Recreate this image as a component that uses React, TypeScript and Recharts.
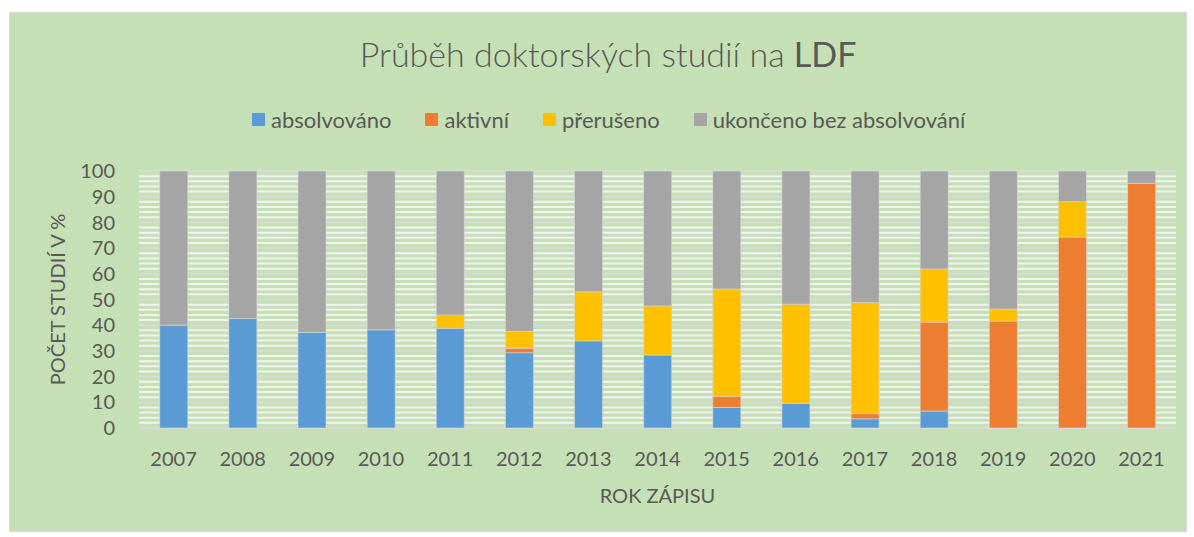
import { BarChart, Bar, XAxis, YAxis, CartesianGrid, Label } from "recharts";

const YEARS = [
  "2007", "2008", "2009", "2010", "2011", "2012", "2013", "2014",
  "2015", "2016", "2017", "2018", "2019", "2020", "2021",
];
// podíly v %
const ABSOLVOVANO = [40.0, 42.6, 37.2, 38.2, 38.8, 29.3, 33.9, 28.4, 8.0, 9.6, 3.6, 6.6, 0, 0, 0];
const AKTIVNI = [0, 0, 0, 0, 0, 1.7, 0, 0, 4.3, 0, 2.0, 34.6, 41.6, 74.3, 95.2];
const PRERUSENO = [0, 0, 0, 0, 5.2, 6.6, 19.1, 19.1, 41.8, 38.6, 43.2, 20.7, 4.7, 13.8, 0];
const UKONCENO = [60.0, 57.4, 62.8, 61.8, 56.0, 62.4, 47.0, 52.5, 45.9, 51.8, 51.2, 38.1, 53.7, 11.9, 4.8];

const Y_TICKS = [0, 10, 20, 30, 40, 50, 60, 70, 80, 90, 100];
const GRID_MINOR = [
  2, 4, 6, 8, 12, 14, 16, 18, 22, 24, 26, 28, 32, 34, 36, 38, 42, 44, 46, 48,
  52, 54, 56, 58, 62, 64, 66, 68, 72, 74, 76, 78, 82, 84, 86, 88, 92, 94, 96, 98,
];

const SERIES = [
  { key: "absolvovano", name: "absolvováno", color: "#5B9BD5" },
  { key: "aktivni", name: "aktivní", color: "#ED7D31" },
  { key: "preruseno", name: "přerušeno", color: "#FFC000" },
  { key: "ukonceno", name: "ukončeno bez absolvování", color: "#A5A5A5" },
];

const FONT = "Lato, 'Open Sans', sans-serif";
const TEXT = "#595959";

const data = YEARS.map((year, i) => ({
  year,
  absolvovano: ABSOLVOVANO[i],
  aktivni: AKTIVNI[i],
  preruseno: PRERUSENO[i],
  ukonceno: UKONCENO[i],
}));

const minorLines = ({ yAxis, offset }: any) => {
  const scale = yAxis?.scale;
  return GRID_MINOR.map((v) => {
    if (typeof scale === "function") return scale(v);
    if (scale && typeof scale.map === "function") return scale.map(v);
    return offset.top + offset.height * (1 - v / 100);
  });
};

function ChartLegend() {
  return (
    <div
      style={{
        position: "absolute",
        top: 106,
        left: 252,
        display: "flex",
        alignItems: "center",
        fontFamily: FONT,
        fontSize: 22,
        color: TEXT,
        whiteSpace: "nowrap",
      }}
    >
      {SERIES.map((s) => (
        <div key={s.key} style={{ display: "flex", alignItems: "center", marginRight: 34 }}>
          <span style={{ width: 13, height: 13, background: s.color, marginRight: 6 }} />
          <span>{s.name}</span>
        </div>
      ))}
    </div>
  );
}

export default function App() {
  return (
    <div style={{ position: "absolute", left: 0, top: 0, width: 1194, height: 537, background: "#fff" }}>
      <div
        style={{
          position: "absolute",
          left: 9,
          top: 12,
          width: 1178,
          height: 520,
          boxSizing: "border-box",
          background: "#C5E0B4",
          border: "1px solid #D9D9D9",
        }}
      />
      <div
        style={{
          position: "absolute",
          left: 308,
          top: 33,
          width: 600,
          textAlign: "center",
          fontFamily: FONT,
          fontSize: 34,
          fontWeight: 300,
          color: TEXT,
          whiteSpace: "nowrap",
        }}
      >
        Průběh doktorských studií na <span style={{ fontWeight: 400 }}>LDF</span>
      </div>
      <ChartLegend />
      <div style={{ position: "absolute", left: 0, top: 0 }}>
        <BarChart
          width={1194}
          height={537}
          data={data}
          margin={{ top: 171, right: 18, bottom: 29, left: 49 }}
          barCategoryGap="30%"
        >
          <CartesianGrid
            vertical={false}
            stroke="#F2F2F2"
            strokeWidth={2}
            horizontalCoordinatesGenerator={minorLines}
          />
          <CartesianGrid vertical={false} stroke="#D9D9D9" strokeWidth={2} />
          <XAxis
            dataKey="year"
            interval={0}
            tickLine={false}
            axisLine={false}
            tickMargin={18}
            height={80}
            tick={{ fill: TEXT, fontSize: 20, fontFamily: FONT }}
          >
            <Label
              value="ROK ZÁPISU"
              position="insideBottom"
              offset={5}
              fill={TEXT}
              fontSize={20}
              fontFamily={FONT}
            />
          </XAxis>
          <YAxis
            domain={[0, 100]}
            ticks={Y_TICKS}
            interval={0}
            tickLine={false}
            axisLine={false}
            tickMargin={18}
            width={90}
            tick={{ fill: TEXT, fontSize: 20, fontFamily: FONT }}
          >
            <Label
              value="POČET STUDIÍ V %"
              angle={-90}
              position="insideLeft"
              offset={9}
              style={{ textAnchor: "middle" }}
              fill={TEXT}
              fontSize={20}
              fontFamily={FONT}
            />
          </YAxis>
          {SERIES.map((s) => (
            <Bar
              key={s.key}
              dataKey={s.key}
              name={s.name}
              stackId="a"
              fill={s.color}
              stroke="#D9D9D9"
              strokeWidth={0.6}
              isAnimationActive={false}
            />
          ))}
        </BarChart>
      </div>
    </div>
  );
}
